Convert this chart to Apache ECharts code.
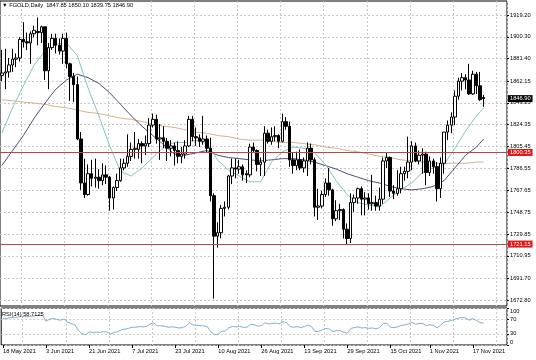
<!DOCTYPE html>
<html><head><meta charset="utf-8">
<script src="https://cdn.jsdelivr.net/npm/echarts@6/dist/echarts.min.js"></script>
<style>html,body{margin:0;padding:0;background:#fff}#c{width:536px;height:360px}</style>
</head><body><div id="c"></div>
<script>
const symbolName = 'FGOLD';
const periodName = 'Daily';
const dates = ['18 May 2021','19 May 2021','20 May 2021','21 May 2021','24 May 2021','25 May 2021','26 May 2021','27 May 2021','28 May 2021','31 May 2021',
'1 Jun 2021','2 Jun 2021','3 Jun 2021','4 Jun 2021','7 Jun 2021','8 Jun 2021','9 Jun 2021','10 Jun 2021','11 Jun 2021','14 Jun 2021',
'15 Jun 2021','16 Jun 2021','17 Jun 2021','18 Jun 2021','21 Jun 2021','22 Jun 2021','23 Jun 2021','24 Jun 2021','25 Jun 2021','28 Jun 2021',
'29 Jun 2021','30 Jun 2021','1 Jul 2021','2 Jul 2021','5 Jul 2021','6 Jul 2021','7 Jul 2021','8 Jul 2021','9 Jul 2021','12 Jul 2021',
'13 Jul 2021','14 Jul 2021','15 Jul 2021','16 Jul 2021','19 Jul 2021','20 Jul 2021','21 Jul 2021','22 Jul 2021','23 Jul 2021','26 Jul 2021',
'27 Jul 2021','28 Jul 2021','29 Jul 2021','30 Jul 2021','2 Aug 2021','3 Aug 2021','4 Aug 2021','5 Aug 2021','6 Aug 2021','9 Aug 2021',
'10 Aug 2021','11 Aug 2021','12 Aug 2021','13 Aug 2021','16 Aug 2021','17 Aug 2021','18 Aug 2021','19 Aug 2021','20 Aug 2021','23 Aug 2021',
'24 Aug 2021','25 Aug 2021','26 Aug 2021','27 Aug 2021','30 Aug 2021','31 Aug 2021','1 Sep 2021','2 Sep 2021','3 Sep 2021','6 Sep 2021',
'7 Sep 2021','8 Sep 2021','9 Sep 2021','10 Sep 2021','13 Sep 2021','14 Sep 2021','15 Sep 2021','16 Sep 2021','17 Sep 2021','20 Sep 2021',
'21 Sep 2021','22 Sep 2021','23 Sep 2021','24 Sep 2021','27 Sep 2021','28 Sep 2021','29 Sep 2021','30 Sep 2021','1 Oct 2021','4 Oct 2021',
'5 Oct 2021','6 Oct 2021','7 Oct 2021','8 Oct 2021','11 Oct 2021','12 Oct 2021','13 Oct 2021','14 Oct 2021','15 Oct 2021','18 Oct 2021',
'19 Oct 2021','20 Oct 2021','21 Oct 2021','22 Oct 2021','25 Oct 2021','26 Oct 2021','27 Oct 2021','28 Oct 2021','29 Oct 2021','1 Nov 2021',
'2 Nov 2021','3 Nov 2021','4 Nov 2021','5 Nov 2021','8 Nov 2021','9 Nov 2021','10 Nov 2021','11 Nov 2021','12 Nov 2021','15 Nov 2021',
'16 Nov 2021','17 Nov 2021','18 Nov 2021','19 Nov 2021','22 Nov 2021',
'23 Nov 2021','24 Nov 2021','25 Nov 2021','26 Nov 2021','29 Nov 2021','30 Nov 2021'];
const dateTickLabels = ['18 May 2021','3 Jun 2021','21 Jun 2021','7 Jul 2021','23 Jul 2021','10 Aug 2021','26 Aug 2021','13 Sep 2021','29 Sep 2021','15 Oct 2021','1 Nov 2021','17 Nov 2021'];
const gridDates = ['26 May 2021','11 Jun 2021','29 Jun 2021','15 Jul 2021','2 Aug 2021','18 Aug 2021','3 Sep 2021','21 Sep 2021','7 Oct 2021','25 Oct 2021','10 Nov 2021','26 Nov 2021'];
const priceTicks = [1672.80,1691.70,1710.95,1729.85,1748.75,1767.65,1786.55,1805.45,1824.35,1843.25,1862.15,1881.40,1900.30,1919.20];
const rsiTicks = [0,30,70,100];
const levelLines = [1800.35, 1721.15];

const opens = [1867,1869,1870,1876,1881,1882,1898,1896,1895,1903,1905,1904,1909,1871,1891,1899,1893,1888,1899,1877,
1866,1859,1812,1774,1764,1782,1778,1779,1776,1781,1779,1761,1770,1776,1787,1791,1797,1803,1803,1808,
1806,1808,1824,1829,1812,1813,1810,1804,1806,1802,1797,1799,1806,1829,1814,1813,1810,1812,1804,1763,
1728,1731,1752,1753,1780,1787,1786,1788,1782,1781,1805,1802,1790,1792,1817,1810,1814,1815,1810,1827,
1823,1794,1789,1794,1787,1793,1804,1794,1753,1754,1764,1774,1768,1743,1750,1751,1734,1726,1757,1761,
1769,1760,1761,1756,1757,1754,1760,1793,1796,1767,1765,1769,1782,1784,1792,1806,1793,1798,1799,1783,
1793,1788,1769,1791,1818,1824,1831,1849,1862,1865,1863,1851,1868,1858,1847.85];
const highs = [1889,1890,1882,1890,1886,1900,1913,1904,1905,1910,1917,1910,1909,1895,1903,1903,1899,1903,1904,1878,
1869,1866,1818,1795,1790,1794,1795,1786,1791,1789,1780,1771,1782,1795,1795,1816,1809,1818,1812,1810,
1815,1830,1834,1833,1825,1823,1813,1811,1809,1810,1805,1811,1832,1832,1822,1816,1832,1815,1813,1765,
1740,1755,1758,1781,1795,1795,1794,1790,1785,1808,1809,1803,1796,1823,1820,1822,1823,1816,1834,1831,
1827,1800,1801,1803,1796,1809,1808,1796,1769,1767,1778,1787,1769,1759,1756,1752,1739,1765,1764,1770,
1771,1766,1765,1781,1763,1770,1796,1800,1797,1772,1785,1788,1788,1814,1810,1809,1802,1804,1801,1797,
1795,1792,1796,1818,1828,1835,1854,1865,1869,1868,1877,1871,1870,1870,1850.10];
const lows = [1862,1855,1865,1870,1874,1879,1891,1889,1877,1900,1893,1895,1863,1855,1889,1886,1885,1877,1873,1845,
1844,1811,1768,1761,1763,1771,1770,1769,1772,1773,1750,1751,1767,1775,1785,1788,1793,1795,1795,1791,
1798,1805,1822,1808,1794,1804,1793,1797,1789,1791,1791,1795,1805,1810,1806,1805,1807,1800,1758,1674,
1718,1726,1745,1751,1773,1778,1782,1776,1774,1779,1800,1784,1780,1780,1808,1807,1810,1804,1809,1820,
1788,1782,1785,1785,1783,1780,1790,1745,1742,1752,1762,1763,1737,1741,1742,1726,1721,1722,1749,1756,
1746,1746,1751,1750,1750,1750,1756,1787,1762,1760,1763,1765,1776,1778,1785,1792,1790,1782,1772,1780,
1782,1758,1761,1782,1811,1817,1824,1846,1854,1855,1850,1850,1851,1845,1839.75];
const closes = [1869,1870,1876,1881,1882,1898,1896,1895,1903,1906,1904,1909,1871,1891,1899,1893,1888,1899,1877,1866,
1859,1812,1774,1764,1782,1778,1779,1776,1781,1779,1761,1770,1776,1787,1791,1797,1803,1804,1808,1806,
1808,1824,1829,1812,1813,1810,1804,1806,1802,1797,1799,1806,1829,1814,1813,1810,1812,1804,1763,1728,
1731,1752,1753,1780,1787,1786,1788,1781,1781,1805,1802,1790,1792,1817,1810,1814,1815,1810,1827,1823,
1794,1789,1794,1787,1793,1804,1794,1753,1754,1764,1774,1768,1743,1750,1751,1734,1726,1757,1761,1769,
1760,1761,1756,1757,1754,1760,1793,1796,1767,1765,1769,1782,1784,1792,1806,1793,1798,1799,1783,1793,
1788,1769,1791,1818,1824,1831,1849,1862,1865,1863,1851,1868,1858,1846,1846.90];

// moving averages: [bar index, price]
const maFast = [[0,1817],[3,1839],[6,1858],[9,1876],[12,1888],[15,1894],[18,1895],[21,1884],[24,1856],[27,1832],
[30,1806],[33,1784],[36,1780],[39,1787],[42,1796],[45,1805],[48,1809],[51,1809],[54,1811],[57,1808],
[60,1794],[63,1785],[66,1780],[69,1775],[72,1775],[75,1792],[78,1801],[81,1805],[84,1804],[87,1800],
[90,1790],[93,1776],[96,1764],[99,1757],[102,1755],[105,1753],[108,1761],[111,1768],[114,1774],[117,1783],
[120,1787],[123,1790],[126,1804],[129,1819],[132,1832],[134,1839]];
const maMid = [[0,1789],[3,1802],[6,1815],[9,1830],[12,1843],[15,1855],[18,1863],[21,1868],[24,1865],[27,1860],
[30,1852],[33,1842],[36,1832],[39,1823],[42,1815],[45,1807],[48,1799],[51,1798],[54,1800],[57,1802],
[60,1798],[63,1796],[66,1795],[69,1794],[72,1793],[75,1794],[78,1795],[81,1795],[84,1794],[87,1792],
[90,1789],[93,1786],[96,1782],[99,1779],[102,1776],[105,1774],[108,1771],[111,1769],[114,1768],[117,1769],
[120,1771],[123,1776],[126,1787],[129,1798],[132,1805],[134,1812]];
const maSlow = [[0,1846],[3,1845],[6,1844],[9,1843],[12,1842],[15,1840],[18,1839],[21,1837],[24,1835],[27,1834],
[30,1832],[33,1830],[36,1829],[39,1827],[42,1825],[45,1823],[48,1822],[51,1820],[54,1818],[57,1817],
[60,1815],[63,1814],[66,1812],[69,1811],[72,1811],[75,1810],[78,1809],[81,1809],[84,1808],[87,1807],
[90,1805],[93,1804],[96,1802],[99,1801],[102,1799],[105,1797],[108,1796],[111,1794],[114,1793],[117,1792],
[120,1791],[123,1791],[126,1791],[129,1791],[132,1792],[134,1792]];
const rsi = [71,72,74,75,75,78,77,76,78,79,80,80,64,70,72,69,67,70,62,58,
55,40,30,28,35,34,35,34,36,35,30,34,36,41,43,45,48,48,50,49,
50,57,60,52,52,51,48,49,48,46,47,51,60,54,53,52,52,49,35,28,
29,37,38,47,50,49,50,48,48,56,55,51,52,60,57,58,59,57,63,61,
50,48,50,47,50,54,50,36,37,41,45,43,36,39,39,34,32,45,47,49,
46,47,45,46,44,47,58,59,48,47,49,53,54,57,61,56,58,58,52,55,
53,46,54,62,64,66,70,73,74,73,67,71,66,61,58.7125];

const FONT = 'Liberation Sans, Arial, sans-serif';
const FS = 5.7;
const last = opens.length - 1;
const lastPrice = closes[last];
const candleData = opens.map((o,i)=>[o, closes[i], lows[i], highs[i]]);
const yMin = 1667.61, yMax = 1931.3;
const isTickDate = (i,v) => dateTickLabels.indexOf(v) >= 0;
const isGridDate = (i,v) => gridDates.indexOf(v) >= 0;
const gridLineStyle = {color:'#c8c8c8', width:1, type:[2,2]};

const chart = echarts.init(document.getElementById('c'), null, {renderer:'canvas'});
chart.setOption({
  animation:false,
  backgroundColor:'#ffffff',
  textStyle:{fontFamily:FONT},
  title:[
    {text:'\u25BC ' + symbolName + ',' + periodName + '  ' + [opens[last],highs[last],lows[last],closes[last]].map(v=>v.toFixed(2)).join(' '),
     left:2, top:2, padding:0, textStyle:{fontSize:FS, fontWeight:'normal', color:'#000', fontFamily:FONT}},
    {text:'RSI(14) ' + rsi[last], left:2, top:311, padding:0, textStyle:{fontSize:FS, fontWeight:'normal', color:'#000', fontFamily:FONT}}
  ],
  grid:[
    {left:0, right:29, top:1, height:305, show:true, borderColor:'#000', borderWidth:1, backgroundColor:'transparent'},
    {left:0, right:29, top:308, height:37, show:true, borderColor:'#000', borderWidth:1, backgroundColor:'transparent'}
  ],
  xAxis:[
    {type:'category', gridIndex:0, data:dates, boundaryGap:true,
     axisLine:{show:false}, axisTick:{show:false}, axisLabel:{show:false},
     splitLine:{show:true, interval:isGridDate, lineStyle:gridLineStyle}},
    {type:'category', gridIndex:1, data:dates, boundaryGap:true,
     axisLine:{show:false},
     axisTick:{show:true, interval:isTickDate, alignWithLabel:true, length:3, lineStyle:{color:'#000'}},
     axisLabel:{show:true, interval:isTickDate, align:'left', fontSize:FS, color:'#000', margin:3, fontFamily:FONT},
     splitLine:{show:true, interval:isGridDate, lineStyle:gridLineStyle}}
  ],
  yAxis:[
    {type:'value', gridIndex:0, position:'right', min:yMin, max:yMax, scale:true,
     axisLine:{show:false},
     axisTick:{show:true, customValues:priceTicks, length:2, lineStyle:{color:'#000'}},
     axisLabel:{customValues:priceTicks, formatter:v=>v.toFixed(2), fontSize:FS, color:'#000', margin:3, fontFamily:FONT},
     splitLine:{show:true, lineStyle:gridLineStyle}},
    {type:'value', gridIndex:1, position:'right', min:0, max:100,
     axisLine:{show:false},
     axisTick:{show:true, customValues:rsiTicks, length:2, lineStyle:{color:'#000'}},
     axisLabel:{customValues:rsiTicks, fontSize:FS, color:'#000', margin:3, fontFamily:FONT,
       verticalAlignMaxLabel:'top', verticalAlignMinLabel:'bottom'},
     splitLine:{show:true, lineStyle:gridLineStyle}}
  ],
  series:[
    {type:'line', xAxisIndex:0, yAxisIndex:0, data:maSlow, showSymbol:false, connectNulls:true,
     lineStyle:{color:'#d2b48c', width:1}, z:1},
    {type:'line', xAxisIndex:0, yAxisIndex:0, data:maMid, showSymbol:false, connectNulls:true,
     lineStyle:{color:'#4e4e78', width:1}, z:1},
    {type:'line', xAxisIndex:0, yAxisIndex:0, data:maFast, showSymbol:false, connectNulls:true,
     lineStyle:{color:'#86c2c2', width:1}, z:1},
    {type:'candlestick', xAxisIndex:0, yAxisIndex:0, data:candleData, barWidth:3, z:3,
     itemStyle:{color:'#ffffff', color0:'#000000', borderColor:'#000000', borderColor0:'#000000', borderWidth:1},
     markLine:{silent:true, symbol:['none','none'], animation:false,
       label:{show:true, position:'end', distance:1, formatter:p=>Number(p.value).toFixed(2),
              fontSize:FS, color:'#fff', padding:[1,2,0,2], fontFamily:FONT},
       data:[
         {yAxis:levelLines[0], lineStyle:{color:'#b84848', width:1, type:'solid'}, label:{backgroundColor:'#e01818'}},
         {yAxis:levelLines[1], lineStyle:{color:'#b84848', width:1, type:'solid'}, label:{backgroundColor:'#e01818'}},
         {yAxis:lastPrice, lineStyle:{color:'rgba(0,0,0,0)', width:1, type:'solid'}, label:{backgroundColor:'#000000', color:'#ffffff'}}
       ]}},
    {type:'line', xAxisIndex:1, yAxisIndex:1, data:rsi, showSymbol:false,
     lineStyle:{color:'#7fb0cf', width:1}}
  ]
});
</script>
</body></html>
